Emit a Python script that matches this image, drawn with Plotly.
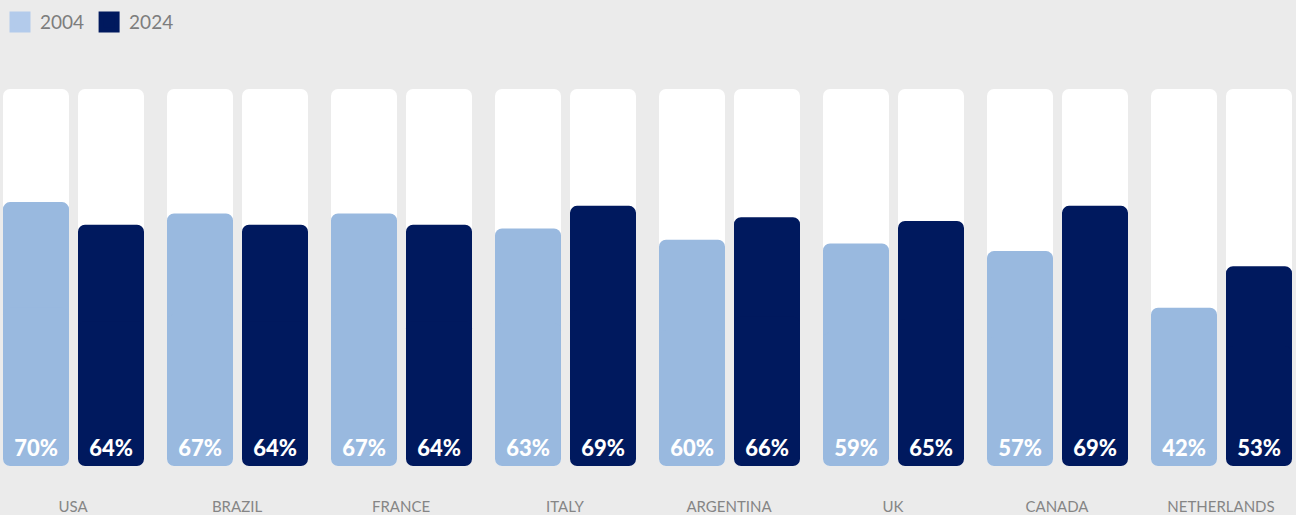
import plotly.graph_objects as go

categories = ["USA", "BRAZIL", "FRANCE", "ITALY", "ARGENTINA", "UK", "CANADA", "NETHERLANDS"]
v2004 = [70, 67, 67, 63, 60, 59, 57, 42]
v2024 = [64, 64, 64, 69, 66, 65, 69, 53]
series_names = ["2004", "2024"]

C_LIGHT = "#99b9df"
C_LIGHT_LEG = "#b3cbeb"
C_DARK = "#00195e"
BG = "#ebebeb"
TXT = "#7d7d7d"

PITCH = 164.0          # px per category (integer keeps bar edges on whole pixels)
W = 66 / PITCH
OFFS = [-70 / PITCH, 5 / PITCH]
R0 = -73 / PITCH
R1 = R0 + 1296 / PITCH

xs = list(range(len(categories)))
fig = go.Figure()


def rounded_bar(values, offset, color):
    # two overlapping halves so both ends get rounded corners
    lo_base = [v * 0.4 for v in values]
    hi_base = [v * 0.6 for v in values]
    fig.add_trace(go.Bar(x=xs, y=[v * 0.6 for v in values], base=lo_base, width=W, offset=offset,
                         marker=dict(color=color, line=dict(width=0)), showlegend=False, hoverinfo="skip"))
    fig.add_trace(go.Bar(x=xs, y=[-v * 0.6 for v in values], base=hi_base, width=W, offset=offset,
                         marker=dict(color=color, line=dict(width=0)), showlegend=False, hoverinfo="skip"))


full = [100] * len(categories)
for off in OFFS:
    rounded_bar(full, off, "white")

for vals, off, col in [(v2004, OFFS[0], C_LIGHT), (v2024, OFFS[1], C_DARK)]:
    rounded_bar(vals, off, col)

for vals, off in [(v2004, OFFS[0]), (v2024, OFFS[1])]:
    fig.add_trace(go.Scatter(
        x=[x + off + W / 2 for x in xs], y=[4.2] * len(xs), mode="text",
        text=[f"{v}%" for v in vals],
        textfont=dict(family="Lato", size=22, color="white", weight=900),
        textposition="middle center", showlegend=False, hoverinfo="skip"))

for name, col in zip(series_names, [C_LIGHT_LEG, C_DARK]):
    fig.add_trace(go.Scatter(x=[None], y=[None], mode="markers", name=name,
                             marker=dict(symbol="square", size=16, color=col,
                                         line=dict(color=col, width=5))))

fig.update_layout(
    width=1296, height=515,
    margin=dict(l=0, r=0, t=89, b=49),
    paper_bgcolor=BG, plot_bgcolor=BG,
    barmode="overlay", barcornerradius=7,
    showlegend=True,
    legend=dict(orientation="h", x=0, xref="container", y=0.994, yref="container",
                yanchor="top", xanchor="left",
                font=dict(family="Lato", size=19, color=TXT),
                bgcolor="rgba(0,0,0,0)"),
    xaxis=dict(range=[R0, R1], tickvals=xs, ticktext=categories,
               showgrid=False, zeroline=False, showline=False, ticks="",
               ticklabelstandoff=30,
               tickfont=dict(family="Lato", size=15, color="#858585")),
    yaxis=dict(range=[0, 100], visible=False, showgrid=False, zeroline=False),
)

fig.write_html("out.html", config={"displayModeBar": False},
               post_script="document.body.style.margin='0';")
